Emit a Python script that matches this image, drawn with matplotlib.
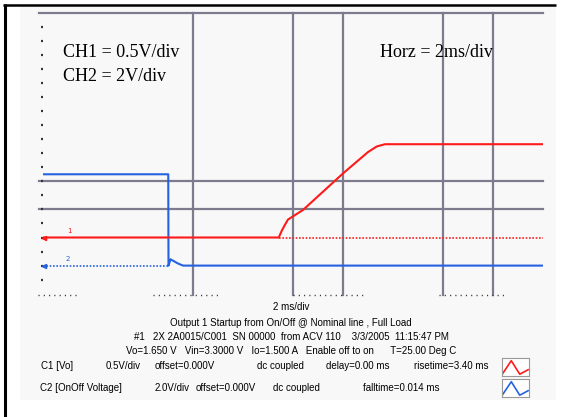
import numpy as np
import matplotlib
matplotlib.use("Agg")
import matplotlib.pyplot as plt

# === 1. Scope settings and traces ===
W, H = 563, 417
MS_PER_DIV = 2.0
CH1_V_PER_DIV = 0.5
CH2_V_PER_DIV = 2.0
CH1_GND_DIV = 2.0   # ground marker position, divisions from bottom
CH2_GND_DIV = 1.0

# CH1 (Vo) - red
ch1_t = [0.0, 9.43, 9.55, 9.67, 9.80, 10.4, 12.0, 13.0, 13.35, 13.68, 20.0]
ch1_v = [0.0, 0.0, 0.12, 0.22, 0.32, 0.49, 1.14, 1.52, 1.62, 1.66, 1.66]

# CH2 (OnOff voltage) - blue
ch2_t = [0.0, 5.01, 5.02, 5.1, 5.25, 5.4, 5.6, 20.0]
ch2_v = [6.5, 6.5, 0.0, 0.45, 0.3, 0.15, 0.0, 0.0]

# grid lines that survived in the capture (ms / divisions)
grid_x_ms = [6, 10, 12, 16, 18]
grid_y_div = [3, 4, 10]
# dotted minor-tick runs on the bottom edge (ms)
bottom_dots = [(-0.2, 1.44), (4.4, 7.0), (10.0, 12.9), (15.84, 18.44)]

caption = [
    "2 ms/div",
    "Output 1 Startup from On/Off @ Nominal line , Full Load",
    "#1   2X 2A0015/C001  SN 00000  from ACV 110    3/3/2005  11:15:47 PM",
    "Vo=1.650 V   Vin=3.3000 V   Io=1.500 A   Enable off to on      T=25.00 Deg C",
]
c1_fields = ["C1 [Vo]", "0.5V/div", "offset=0.000V", "dc coupled",
             "delay=0.00 ms", "risetime=3.40 ms"]
c1_x = [41, 106, 155, 257, 326, 414]
c2_fields = ["C2 [OnOff Voltage]", "2.0V/div", "offset=0.000V", "dc coupled",
             "falltime=0.014 ms"]
c2_x = [40, 155, 196, 273, 363]

RED = "#ff1a1a"
BLUE = "#2462e0"
GRID = "#7c7c8e"
PANEL = "#f8f8f8"

# === 2. Figure, frame and panel ===
fig = plt.figure(figsize=(W / 100, H / 100), dpi=100)
bg = fig.add_axes([0, 0, 1, 1])
bg.set_xlim(0, W)
bg.set_ylim(H, 0)
bg.axis("off")

bg.add_patch(plt.Rectangle((20, 7), 536, 393, color=PANEL, lw=0))
bg.plot([3, 556], [5, 5], color="black", lw=1.8, solid_capstyle="butt")
bg.plot([4.5, 4.5], [4, H], color="black", lw=2.2, solid_capstyle="butt")


def px_rect(x0, y0, x1, y1):
    return [x0 / W, 1 - y1 / H, (x1 - x0) / W, (y1 - y0) / H]


# === 3. Scope screen ===
ax = fig.add_axes(px_rect(43, 12.7, 543, 293.7))
ax.set_xlim(0, 10 * MS_PER_DIV)
ax.set_ylim(0, 10)
ax.set_facecolor(PANEL)
for s in ax.spines.values():
    s.set_visible(False)
ax.set_xticks([])
ax.set_yticks(np.arange(0.5, 10, 0.5))
ax.tick_params(axis="y", length=1.2, width=1.6, color="#333333", pad=0,
               labelleft=False)

for gx in grid_x_ms:
    ax.plot([gx, gx], [-0.05, 10], color=GRID, lw=1.6, clip_on=False, zorder=1)
for gy in grid_y_div:
    ax.plot([-0.15, 20], [gy, gy], color=GRID, lw=1.6, clip_on=False, zorder=1)
for a, b in bottom_dots:
    ax.plot([a, b], [-0.05, -0.05], color="#333333", lw=1.0,
            linestyle=(0, (0.8, 3.0)), clip_on=False)

# ground reference lines
ax.plot([ch1_t[1], 20], [CH1_GND_DIV] * 2, color=RED, lw=1.2,
        linestyle=(0, (1, 1)), zorder=2)
ax.plot([0, ch2_t[1]], [CH2_GND_DIV] * 2, color=BLUE, lw=1.2,
        linestyle=(0, (1, 1)), zorder=2)

# traces
ch1_div = np.array(ch1_v) / CH1_V_PER_DIV + CH1_GND_DIV
ch2_div = np.array(ch2_v) / CH2_V_PER_DIV + CH2_GND_DIV
ax.plot(ch1_t, ch1_div, color=RED, lw=1.5, zorder=4)
ax.plot(ch2_t, ch2_div, color=BLUE, lw=1.5, zorder=3)

# ground markers and channel labels
ax.plot([0.02], [CH1_GND_DIV], marker="<", ms=3, color=RED, clip_on=False)
ax.plot([0.02], [CH2_GND_DIV], marker="<", ms=3, color=BLUE, clip_on=False)
ax.text(0.96, CH1_GND_DIV + 0.12, "1", color=RED, fontsize=5, ha="left",
        va="bottom")
ax.text(0.92, CH2_GND_DIV + 0.12, "2", color=BLUE, fontsize=5, ha="left",
        va="bottom")

# === 4. Annotations (figure-level so they sit above the screen) ===
px = bg.transData
serif = dict(family="Liberation Serif", fontsize=13, color="black",
             transform=px, va="baseline")
fig.text(63, 57, "CH1 = 0.5V/div", ha="left", **serif)
fig.text(63, 81, "CH2 = 2V/div", ha="left", **serif)
fig.text(493, 57, "Horz = 2ms/div", ha="right", **serif)

small = dict(family="Liberation Sans", fontsize=7, color="black", va="center")
for txt, y in zip(caption, [307, 323, 337, 351]):
    bg.text(291, y, txt, ha="center", **small)
for txt, x in zip(c1_fields, c1_x):
    bg.text(x, 366, txt, ha="left", **small)
for txt, x in zip(c2_fields, c2_x):
    bg.text(x, 388, txt, ha="left", **small)

# little waveform icons next to the channel rows
icon_shape = [0.15, 0.85, 0.1, 0.35]
for (y0, y1), col in [((358, 376), RED), ((379, 397), BLUE)]:
    ic = fig.add_axes(px_rect(502, y0, 529, y1))
    ic.set_facecolor("white")
    ic.plot(range(len(icon_shape)), icon_shape, color=col, lw=1.2)
    ic.set_xlim(-0.1, len(icon_shape) - 0.9)
    ic.set_ylim(0, 1)
    ic.set_xticks([])
    ic.set_yticks([])
    for s in ic.spines.values():
        s.set_color("#999999")
        s.set_linewidth(0.8)

fig.savefig("out.png", dpi=100, facecolor="white")
